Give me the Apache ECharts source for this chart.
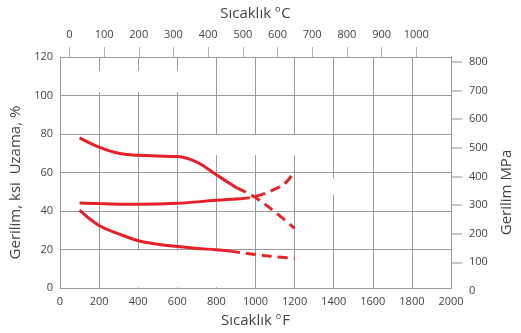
<!DOCTYPE html>
<html>
<head>
<meta charset="utf-8">
<script src="https://cdn.jsdelivr.net/npm/echarts@6/dist/echarts.min.js"></script>
<style>
  html, body { margin: 0; padding: 0; background: #fff; }
  #chart { width: 521px; height: 333px; }
</style>
</head>
<body>
<div id="chart"></div>
<script>
// values: [°F, ksi or %]
const strengthSolid = [[100, 78], [200, 73.2], [300, 70], [400, 69], [500, 68.6], [600, 68.3], [700, 65.4], [800, 58.8], [905, 52]]
const strengthDashed = [[905, 52], [1000, 47], [1100, 39.5], [1200, 31]]
const yieldSolid = [[100, 44.2], [200, 43.9], [400, 43.5], [600, 44], [800, 45.6], [920, 46.4]]
const yieldDashed = [[920, 46.4], [1000, 47.6], [1100, 51.4], [1160, 55.3], [1200, 61]]
const elongSolid = [[100, 40.5], [200, 32.5], [300, 28.2], [400, 24.6], [500, 22.8], [600, 21.6], [700, 20.6], [800, 19.9], [870, 19.2]]
const elongDashed = [[870, 19.2], [1000, 17.4], [1100, 16.3], [1200, 15.4]]

const celsiusTicks = [0, 100, 200, 300, 400, 500, 600, 700, 800, 900, 1000]

const RED = '#e62129'
const GRID = '#9c9c9c'
const TICK = '#b5b5b5'
const TXT = '#444'
const FONT = 'Open Sans'

const chart = echarts.init(document.getElementById('chart'))

function curve(data, dashed) {
  return {
    type: 'line',
    data: data,
    smooth: 0.4,
    symbol: 'none',
    z: 3,
    xAxisIndex: 0,
    yAxisIndex: 0,
    lineStyle: {
      color: RED,
      width: 3,
      type: dashed ? [10, 6] : 'solid'
    }
  }
}

// white patches where the grid lines are broken in the original (°F, ksi)
const gaps = [
  [[150, 101.8], [700, 112.9]],
  [[700, 69], [1300, 79.5]],
  [[1300, 48.6], [1500, 57.1]],
  [[300, 0.5], [900, 19.5]]
]

const plain = v => String(v)
const supTitle = {
  fontSize: 15,
  color: TXT,
  fontFamily: FONT,
  rich: { s: { fontSize: 9, verticalAlign: 'top', padding: [0, 1, 8, 0], color: TXT } }
}

chart.setOption({
  animation: false,
  textStyle: { fontFamily: FONT },
  grid: [
    { left: 60, right: 70, top: 54, bottom: 42 },
    // thin strip right of the plot: its split lines are the MPa ticks
    { left: 451, width: 11, top: 54, bottom: 42 }
  ],
  xAxis: [
    {
      type: 'value',
      gridIndex: 0,
      position: 'bottom',
      min: 0,
      max: 2000,
      interval: 200,
      name: 'Sıcaklık {s|o}F',
      nameLocation: 'middle',
      nameGap: 21,
      nameTextStyle: supTitle,
      axisLine: { onZero: false, lineStyle: { color: GRID } },
      axisTick: { show: false },
      axisLabel: { color: TXT, fontSize: 11, margin: 8, formatter: plain },
      splitLine: { lineStyle: { color: GRID } }
    },
    {
      type: 'value',
      gridIndex: 0,
      position: 'top',
      min: -27,
      max: 1100,
      name: 'Sıcaklık {s|o}C',
      nameLocation: 'middle',
      nameGap: 35,
      nameTextStyle: supTitle,
      axisLine: { onZero: false, lineStyle: { color: GRID } },
      axisTick: { show: true, length: 10, customValues: celsiusTicks, lineStyle: { color: TICK } },
      axisLabel: { color: TXT, fontSize: 11, margin: 17, customValues: celsiusTicks, formatter: plain },
      splitLine: { show: false }
    },
    {
      type: 'value',
      gridIndex: 1,
      show: false,
      min: 0,
      max: 1
    }
  ],
  yAxis: [
    {
      type: 'value',
      gridIndex: 0,
      position: 'left',
      min: 0,
      max: 120,
      interval: 20,
      name: 'Gerilim, ksi  Uzama, %',
      nameLocation: 'middle',
      nameGap: 26,
      nameRotate: 90,
      nameTextStyle: { fontSize: 15, color: TXT, fontFamily: FONT, padding: [0, 20, 0, 0] },
      axisLine: { show: true, onZero: false, lineStyle: { color: GRID } },
      axisTick: { show: false },
      axisLabel: { color: TXT, fontSize: 11, margin: 7 },
      splitLine: { lineStyle: { color: GRID } }
    },
    {
      type: 'value',
      gridIndex: 0,
      position: 'right',
      min: 0,
      max: 120,
      axisLine: { show: true, onZero: false, lineStyle: { color: GRID } },
      axisTick: { show: false },
      axisLabel: { show: false },
      splitLine: { show: false }
    },
    {
      type: 'value',
      gridIndex: 1,
      position: 'right',
      min: 0,
      max: 827.37,
      interval: 100,
      name: 'Gerilim MPa',
      nameLocation: 'middle',
      nameGap: 37,
      nameRotate: 90,
      nameTextStyle: { fontSize: 15, color: TXT, fontFamily: FONT, padding: [0, 40, 0, 0] },
      axisLine: { show: false, onZero: false },
      axisTick: { show: false },
      axisLabel: { color: TXT, fontSize: 11, margin: 7, showMaxLabel: false },
      splitLine: { show: true, showMinLine: false, showMaxLine: false, lineStyle: { color: TICK, width: 1.5 } }
    }
  ],
  series: [
    curve(strengthSolid, false),
    curve(strengthDashed, true),
    curve(yieldSolid, false),
    curve(yieldDashed, true),
    curve(elongSolid, false),
    curve(elongDashed, true)
  ]
})

// cover the broken pieces of the grid, positioned through the axes
const patches = gaps.map(g => {
  const a = chart.convertToPixel({ xAxisIndex: 0, yAxisIndex: 0 }, g[0])
  const b = chart.convertToPixel({ xAxisIndex: 0, yAxisIndex: 0 }, g[1])
  return {
    type: 'rect',
    z: 1,
    silent: true,
    shape: {
      x: Math.min(a[0], b[0]),
      y: Math.min(a[1], b[1]),
      width: Math.abs(b[0] - a[0]),
      height: Math.abs(b[1] - a[1])
    },
    style: { fill: '#fff' }
  }
})
chart.setOption({ graphic: { elements: patches } })
</script>
</body>
</html>
